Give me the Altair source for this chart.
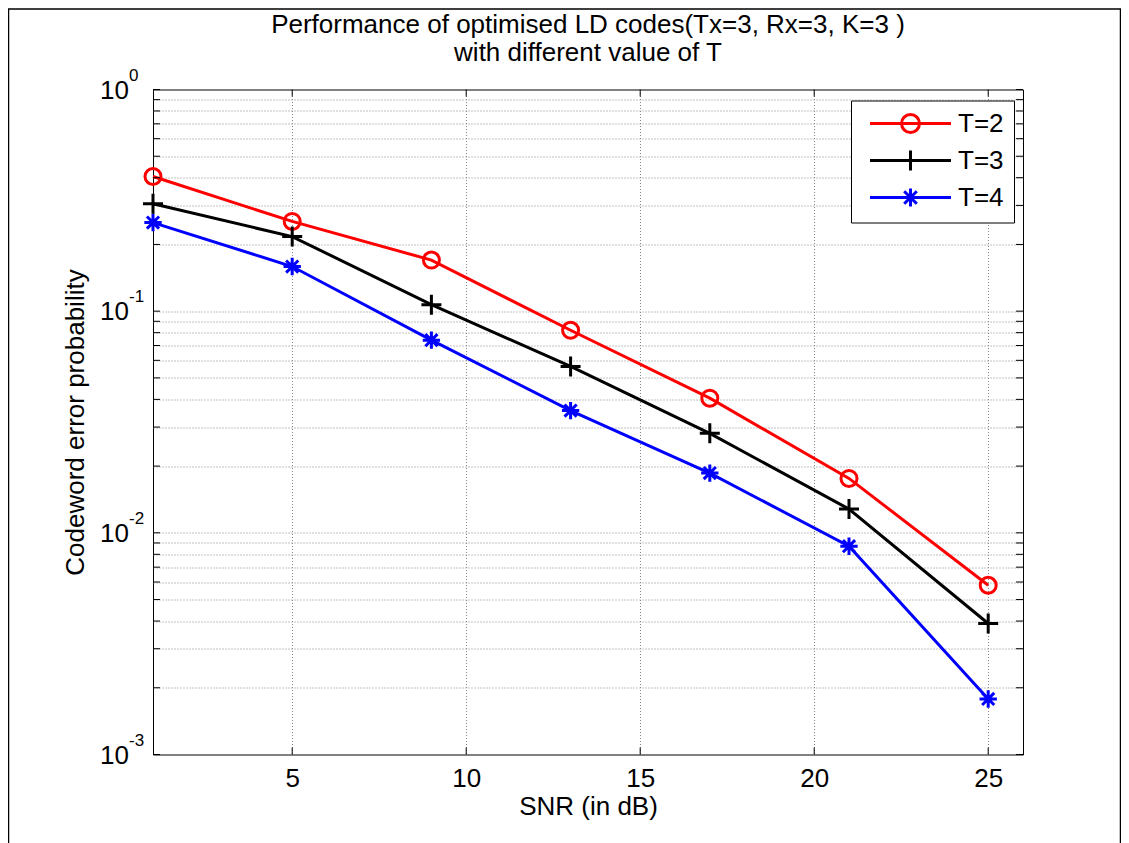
import altair as alt
import pandas as pd

# ---------------- data ----------------
snr = [1, 5, 9, 13, 17, 21, 25]
t2 = [0.405, 0.254, 0.170, 0.082, 0.0405, 0.0176, 0.0058]
t3 = [0.305, 0.217, 0.107, 0.0563, 0.0281, 0.0128, 0.0039]
t4 = [0.251, 0.159, 0.074, 0.0356, 0.0186, 0.0087, 0.00178]
series_names = ["T=2", "T=3", "T=4"]
series_colors = ["#ff0000", "#000000", "#0000ff"]

x_ticks = [5, 10, 15, 20, 25]
y_decades = [1, 0.1, 0.01, 0.001]
y_exponents = ["0", "-1", "-2", "-3"]
y_grid = [0.001, 0.002, 0.003, 0.004, 0.005, 0.006, 0.007, 0.008, 0.009,
          0.01, 0.02, 0.03, 0.04, 0.05, 0.06, 0.07, 0.08, 0.09,
          0.1, 0.2, 0.3, 0.4, 0.5, 0.6, 0.7, 0.8, 0.9, 1.0]
title_lines = ["Performance of optimised LD codes(Tx=3, Rx=3, K=3 )",
               "with different value of T"]
x_title = "SNR (in dB)"
y_title = "Codeword error probability"

rows = []
for name, vals in zip(series_names, [t2, t3, t4]):
    for s, v in zip(snr, vals):
        rows.append({"snr": s, "p": v, "series": name})
df = pd.DataFrame(rows)

# ---------------- style ----------------
W, H = 870, 665
FONT = "Liberation Sans"
FS = 26
GRID = "#858585"

x_scale = alt.Scale(domain=[1, 26], nice=False, zero=False)
y_scale = alt.Scale(type="log", domain=[0.001, 1], nice=False)
color_scale = alt.Scale(domain=series_names, range=series_colors)

x_axis = alt.Axis(
    values=x_ticks, grid=True, ticks=False, tickSize=0, domain=False,
    labelFontSize=FS, labelFont=FONT, labelPadding=24, labelBaseline="middle",
    labelColor="black", labelOverlap=False,
    title=x_title, titleFontSize=FS, titleFont=FONT, titleFontWeight="normal",
    titleColor="black", titleY=52, titleBaseline="middle",
    gridColor=GRID, gridDash=[1, 2], gridWidth=1)
y_axis = alt.Axis(
    values=y_grid, grid=True, labels=False, ticks=False, tickSize=0, domain=False,
    title=y_title, titleFontSize=FS, titleFont=FONT, titleFontWeight="normal",
    titleColor="black", titleX=-78, titleY=H / 2, titleAngle=270,
    titleBaseline="middle",
    gridColor=GRID, gridDash=[1, 2], gridWidth=1)

leg = alt.Legend(
    title=None, orient="none", legendX=698, legendY=11, direction="vertical",
    strokeColor="black", fillColor="white", padding=10, rowPadding=6,
    symbolSize=324, symbolStrokeWidth=3, symbolOffset=5,
    symbolFillColor="transparent",
    labelFontSize=FS, labelFont=FONT, labelColor="black", labelOffset=66)


def X():
    return alt.X("snr:Q", scale=x_scale, axis=x_axis)


def Y():
    return alt.Y("p:Q", scale=y_scale, axis=y_axis)


def C():
    return alt.Color("series:N", scale=color_scale, legend=leg)


lines = alt.Chart(df).mark_line(strokeWidth=3).encode(x=X(), y=Y(), color=C())

plus_path = "M-1,0L1,0M0,-1L0,1"
star_path = "M-1,0L1,0M0,-1L0,1M-0.7,-0.7L0.7,0.7M-0.7,0.7L0.7,-0.7"
marker_shapes = {"T=2": ("circle", 256), "T=3": (plus_path, 400), "T=4": (star_path, 300)}

point_layers = []
for name in series_names:
    shp, sz = marker_shapes[name]
    point_layers.append(
        alt.Chart(df).transform_filter(alt.datum.series == name)
        .mark_point(shape=shp, size=sz, filled=False, strokeWidth=3, opacity=1)
        .encode(x=X(), y=Y(), color=C())
    )

legend_paths = [
    "M-1,0L8,0M4.5,0A1,1,0,1,1,2.5,0A1,1,0,1,1,4.5,0",
    "M-1,0L8,0M3.5,-1.1L3.5,1.1",
    "M-1,0L8,0M3.5,-1L3.5,1M2.8,-0.7L4.2,0.7M2.8,0.7L4.2,-0.7",
]
legend_layer = (
    alt.Chart(df).transform_filter("false")
    .mark_point(filled=False, strokeWidth=3, size=324, opacity=1)
    .encode(
        x=X(), y=Y(), color=C(),
        shape=alt.Shape("series:N", scale=alt.Scale(domain=series_names, range=legend_paths), legend=leg),
    )
)

# inward tick marks (box style)
ytick_df = pd.DataFrame({"p": y_grid})
xtick_df = pd.DataFrame({"snr": x_ticks})
tick_layers = [
    alt.Chart(ytick_df).mark_rule(color="black", strokeWidth=1).encode(
        y=Y(), x=alt.value(0), x2=alt.value(7)),
    alt.Chart(ytick_df).mark_rule(color="black", strokeWidth=1).encode(
        y=Y(), x=alt.value(W - 7), x2=alt.value(W)),
    alt.Chart(xtick_df).mark_rule(color="black", strokeWidth=1).encode(
        x=X(), y=alt.value(H - 7), y2=alt.value(H)),
    alt.Chart(xtick_df).mark_rule(color="black", strokeWidth=1).encode(
        x=X(), y=alt.value(0), y2=alt.value(7)),
]

# y tick labels 10^n
ylab_df = pd.DataFrame({"p": y_decades, "exp": y_exponents, "base": ["10"] * len(y_decades)})
ylab_base = alt.Chart(ylab_df).mark_text(
    align="right", baseline="alphabetic", dy=9, fontSize=FS, font=FONT, color="black"
).encode(y=Y(), x=alt.value(-24), text="base:N")
ylab_exp = alt.Chart(ylab_df).mark_text(
    align="left", baseline="alphabetic", dy=-9, fontSize=17, font=FONT, color="black"
).encode(y=Y(), x=alt.value(-24), text="exp:N")

# title lines
title_layers = []
for i, line in enumerate(title_lines):
    title_layers.append(
        alt.Chart(pd.DataFrame({"t": [line]})).mark_text(
            align="center", baseline="middle", fontSize=FS, font=FONT, color="black"
        ).encode(x=alt.value(W / 2), y=alt.value(-64.5 + 28 * i), text="t:N")
    )

# figure frame
border = alt.Chart(pd.DataFrame({"a": [0]})).mark_rect(
    fill="transparent", stroke="black", strokeWidth=1.5
).encode(x=alt.value(-144.5), x2=alt.value(967.5), y=alt.value(-80.5), y2=alt.value(800))

chart = alt.layer(
    lines, *point_layers, legend_layer, *tick_layers, ylab_base, ylab_exp,
    *title_layers, border
).properties(
    width=W, height=H,
    padding={"left": 145, "top": 81.5, "right": 98, "bottom": 88.5},
    autosize=alt.AutoSizeParams(type="none"),
    background="white",
).configure_view(stroke="black", strokeWidth=1)

chart.save("out.html", embed_options={"renderer": "svg", "actions": False})
